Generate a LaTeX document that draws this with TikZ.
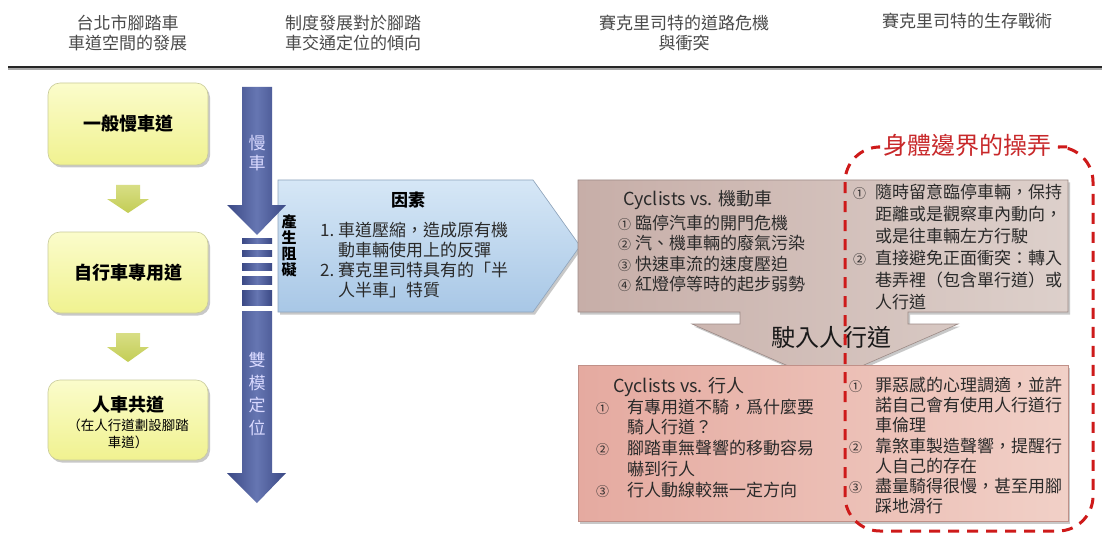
\documentclass[tikz,border=0pt]{standalone}
\usepackage{fontspec}
\setmainfont{Noto Sans CJK TC}
\usetikzlibrary{shadows}
\definecolor{hdrgray}{HTML}{4A4A4A}
\definecolor{bodytxt}{HTML}{2A2A2A}
\definecolor{ytop}{HTML}{FBFCCB}
\definecolor{ybot}{HTML}{F0F290}
\definecolor{yedge}{HTML}{C9CB9A}
\definecolor{yarr}{HTML}{C3CD55}
\definecolor{yarrtop}{HTML}{D8DE85}
\definecolor{bdark}{HTML}{3B4985}
\definecolor{blight}{HTML}{6676B2}
\definecolor{ftop}{HTML}{D6E7F6}
\definecolor{fbot}{HTML}{A8C7E6}
\definecolor{fedge}{HTML}{8EA4BC}
\definecolor{brl}{HTML}{C7AEA8}
\definecolor{brr}{HTML}{DDD0CB}
\definecolor{bredge}{HTML}{9C8A86}
\definecolor{pkl}{HTML}{E5AAA0}
\definecolor{pkr}{HTML}{F1D0C7}
\definecolor{pkedge}{HTML}{C09088}
\definecolor{dred}{HTML}{CE1A1A}
\definecolor{tred}{HTML}{C8282A}
\newcommand\itm[2]{\makebox[#1][l]{\fontsize{13}{13}\selectfont #2}}
\begin{document}
\begin{tikzpicture}[x=1pt,y=-1pt,
  hdr/.style={font=\fontsize{17}{20.5}\selectfont, text=hdrgray, align=center, inner sep=0},
  body/.style={text=bodytxt, align=left, inner sep=0, anchor=north west},
  shad/.style={drop shadow={shadow xshift=2pt, shadow yshift=-2.5pt, opacity=0.3, fill=black!70}},
  ybox/.style={draw=yedge, line width=0.6pt, rounded corners=12pt, top color=ytop, bottom color=ybot,
     minimum width=160pt, inner sep=0, shad, font=\fontsize{18}{22}\selectfont\bfseries},
  yarrow/.style={top color=yarrtop, bottom color=yarr},
  bluearrow/.style={left color=bdark, right color=bdark, middle color=blight},
  reddash/.style={draw=dred, line width=3pt, dash pattern=on 11pt off 8pt}
]
\useasboundingbox[fill=white] (0,0) rectangle (1102,540);

% headers
\node[hdr] (h1) at (127.5,33) {台北市腳踏車\\車道空間的發展};
\node[hdr] (h2) at (353,33) {制度發展對於腳踏\\車交通定位的傾向};
\node[hdr] (h3) at (684,33) {賽克里司特的道路危機\\與衝突};
\node[hdr] (h4) at (967,21) {賽克里司特的生存戰術};
\coordinate (rl) at (8,67);
\coordinate (rr) at (1102,67);
\draw[black!35, line width=2pt] ([yshift=-2pt]rl) -- ([yshift=-2pt]rr);
\draw[black!85, line width=2.4pt] (rl) -- (rr);

% yellow column
\node[ybox, minimum height=82pt] (y1) at (128,124) {一般慢車道};
\node[ybox, minimum height=81pt] (y2) at (128,272.5) {自行車專用道};
\node[ybox, minimum height=80pt] (y3) at (128,420) {};
\node[inner sep=0, font=\fontsize{18}{22}\selectfont\bfseries] (y3a) at (128,405) {人車共道};
\node[inner sep=0, align=center, font=\fontsize{13.5}{17}\selectfont] (y3b) at (128,433.5) {（在人行道劃設腳踏\\車道）};
\path[yarrow] (116,185) -- (140,185) -- (140,199) -- (149,199) -- (128,213) -- (107,199) -- (116,199) -- cycle;
\path[yarrow] (116,333) -- (140,333) -- (140,347) -- (149,347) -- (128,362) -- (107,347) -- (116,347) -- cycle;

% factor box
\path[draw=fedge, line width=0.6pt, top color=ftop, bottom color=fbot, shad]
  (278,180) -- (533,180) -- (580,246) -- (533,312) -- (278,312) -- cycle;
\node[inner sep=0, font=\fontsize{17}{20}\selectfont\bfseries] (fac) at (408,200) {因素};
\node[body, font=\fontsize{17}{20}\selectfont] (facl) at (320,221.5)
 {\makebox[18pt][l]{1.}車道壓縮，造成原有機\\
  \hspace*{18pt}動車輛使用上的反彈\\
  \makebox[18pt][l]{2.}賽克里司特具有的「半\\
  \hspace*{18pt}人半車」特質};
\node[inner sep=0, align=center, font=\fontsize{15}{16}\selectfont\bfseries] (zu) at (289,246) {產\\生\\阻\\礙};

% blue vertical arrow
\path[bluearrow] (242,87) -- (272,87) -- (272,205) -- (286,205) -- (257,235) -- (227,205) -- (242,205) -- cycle;
\foreach \a/\b in {238/243, 250/256, 263/270, 276/284, 290/305}
  \path[bluearrow] (242,\a) rectangle (272,\b);
\path[bluearrow] (242,311) -- (272,311) -- (272,473) -- (286,473) -- (257,503) -- (227,473) -- (242,473) -- cycle;
\node[inner sep=0, align=center, text=white!85!blue, font=\fontsize{17}{20}\selectfont] (mc) at (257,153) {慢\\車};
\node[inner sep=0, align=center, text=white!85!blue, font=\fontsize{17}{22.5}\selectfont] (sm) at (257,394) {雙\\模\\定\\位};

% brown callout
\path[draw=bredge, line width=0.6pt, left color=brl, right color=brr, shad]
  (578,180) -- (1068,180) -- (1068,312) -- (908,312) -- (908,324) -- (958,324) -- (825,382)
  -- (692,324) -- (740,324) -- (740,312) -- (578,312) -- cycle;
\node[inner sep=0, anchor=west, text=bodytxt, font=\fontsize{18}{22}\selectfont] (c1) at (623,200) {Cyclists vs. 機動車};
\node[body, font=\fontsize{17}{20.5}\selectfont] (c1l) at (618,214.5)
 {\itm{17pt}{①}臨停汽車的開門危機\\
  \itm{17pt}{②}汽、機車輛的廢氣污染\\
  \itm{17pt}{③}快速車流的速度壓迫\\
  \itm{17pt}{④}紅燈停等時的起步弱勢};
\node[body, font=\fontsize{17}{22}\selectfont] (s1l) at (853,183.5)
 {\itm{22pt}{①}隨時留意臨停車輛，保持\\
  \hspace*{22pt}距離或是觀察車內動向，\\
  \hspace*{22pt}或是往車輛左方行駛\\
  \itm{22pt}{②}直接避免正面衝突：轉入\\
  \hspace*{22pt}巷弄裡（包含單行道）或\\
  \hspace*{22pt}人行道};
\node[inner sep=0, text=black!90, font=\fontsize{24}{28}\selectfont] (ride) at (831,337) {駛入人行道};

% pink box
\node[draw=pkedge, line width=0.6pt, left color=pkl, right color=pkr, shad, inner sep=0,
      minimum width=490pt, minimum height=156pt] (pk) at (823,443) {};
\node[inner sep=0, anchor=west, text=bodytxt, font=\fontsize{18}{22}\selectfont] (c2) at (613,387) {Cyclists vs. 行人};
\node[body, font=\fontsize{17}{20.75}\selectfont] (c2l) at (596,398.5)
 {\itm{31pt}{①}有專用道不騎，爲什麼要\\
  \hspace*{31pt}騎人行道？\\
  \itm{31pt}{②}腳踏車無聲響的移動容易\\
  \hspace*{31pt}嚇到行人\\
  \itm{31pt}{③}行人動線較無一定方向};
\node[body, font=\fontsize{17}{20.3}\selectfont] (s2l) at (849,376.5)
 {\itm{26pt}{①}罪惡感的心理調適，並許\\
  \hspace*{26pt}諾自己會有使用人行道行\\
  \hspace*{26pt}車倫理\\
  \itm{26pt}{②}靠煞車製造聲響，提醒行\\
  \hspace*{26pt}人自己的存在\\
  \itm{26pt}{③}盡量騎得很慢，甚至用腳\\
  \hspace*{26pt}踩地滑行};

% red dashed boundary
\node[inner sep=0, text=tred, font=\fontsize{24}{28}\selectfont] (title) at (967,145) {身體邊界的操弄};
\coordinate (dA) at (878,147);
\coordinate (dB) at (1068,147);
\draw[reddash, rounded corners=35pt] (dA) -- (845,147) -- (845,531) -- (1093,531) -- (1093,147) -- (dB);
\end{tikzpicture}
\end{document}
